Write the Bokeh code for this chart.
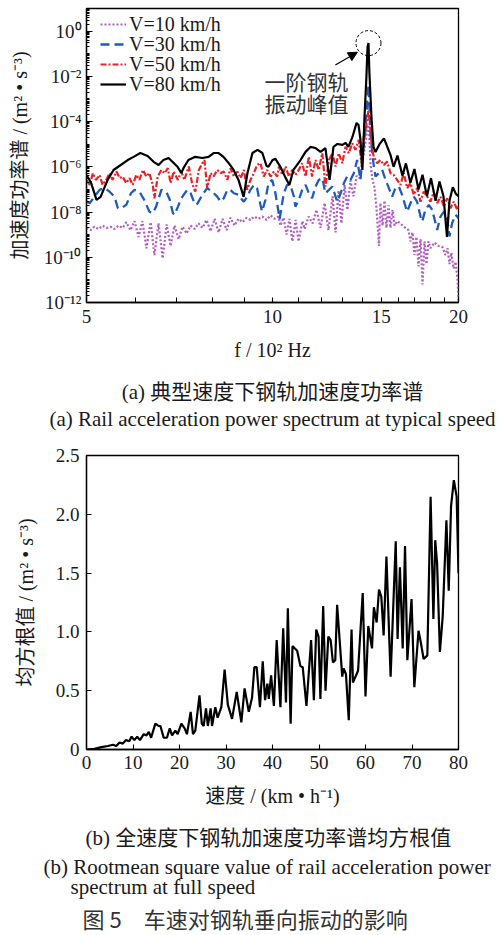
import numpy as np
from bokeh.plotting import figure
from bokeh.models import (FixedTicker, Legend, LegendItem, Label, Arrow, NormalHead,
                          Range1d, CustomJSTickFormatter, Title)
from bokeh.layouts import column
from bokeh.embed import file_html
from bokeh.resources import INLINE

# ---------------- data: (a) power spectra, f in 10^2 Hz, values as log10(PSD) ----------------
f10 = [5.00, 5.08, 5.15, 5.23, 5.31, 5.39, 5.47, 5.55, 5.63, 5.72, 5.80, 5.89, 5.98, 6.07, 6.16, 6.25,
       6.35, 6.44, 6.54, 6.64, 6.74, 6.84, 6.94, 7.05, 7.15, 7.26, 7.37, 7.48, 7.59, 7.70, 7.82, 7.94,
       8.06, 8.18, 8.30, 8.43, 8.55, 8.68, 8.81, 8.94, 9.08, 9.21, 9.35, 9.49, 9.63, 9.78, 9.93, 10.08,
       10.23, 10.30, 10.42, 10.54, 10.65, 10.77, 10.90, 11.02, 11.18, 11.27, 11.44, 11.61, 11.78, 11.96,
       12.14, 12.32, 12.51, 12.65, 12.79, 12.93, 13.08, 13.22, 13.37, 13.52, 13.68, 13.83, 13.93, 14.04,
       14.14, 14.28, 14.34, 14.41, 14.52, 14.62, 14.73, 14.87, 14.95, 15.07, 15.18, 15.29, 15.41, 15.52,
       15.64, 15.76, 15.93, 16.17, 16.41, 16.60, 16.72, 16.85, 16.97, 17.10, 17.23, 17.36, 17.49, 17.62,
       17.75, 17.88, 18.02, 18.29, 18.56, 18.84, 19.05, 19.20, 19.34, 19.48, 19.63, 19.78, 19.93, 20.0]
lg10 = [-8.7, -8.8, -8.65, -8.75, -8.6, -8.7, -8.65, -8.75, -8.6, -8.7, -8.45, -8.8, -8.4, -9.1, -8.4, -9.6,
        -8.45, -9.9, -8.5, -10.05, -8.55, -9.5, -8.6, -9.2, -8.65, -8.95, -8.6, -8.75, -8.5, -8.7, -8.35, -8.85,
        -8.3, -8.9, -8.3, -8.8, -8.25, -8.6, -8.3, -8.45, -8.25, -8.35, -8.2, -8.3, -8.2, -8.35, -8.15, -8.3,
        -8.2, -8.6, -8.25, -9.0, -8.3, -9.3, -8.35, -9.3, -8.4, -8.75, -8.2, -8.5, -7.9, -8.7,
        -7.6, -8.8, -7.3, -8.9, -7.05, -8.5, -6.8, -7.9, -6.6, -7.3, -6.4, -6.5, -6.0, -5.5,
        -4.9, -4.15, -4.6, -5.9, -6.6, -6.9, -7.8, -9.5, -7.6, -8.6, -7.5, -8.7, -7.7, -8.7,
        -7.9, -8.6, -8.4, -8.55, -8.7, -8.8, -9.3, -8.9, -9.9, -9.1, -10.4, -9.2, -11.2, -9.3,
        -10.3, -9.3, -9.6, -9.35, -9.5, -9.55, -9.9, -9.6, -10.3, -9.8, -10.5, -10.2, -11.0, -11.9]

f30 = [5.00, 5.06, 5.15, 5.25, 5.35, 5.45, 5.55, 5.62, 5.69, 5.80, 5.90, 5.98, 6.09, 6.20, 6.32, 6.40,
       6.48, 6.61, 6.73, 6.82, 6.90, 6.94, 7.03, 7.12, 7.20, 7.28, 7.37, 7.46, 7.54, 7.70, 7.84, 7.99,
       8.14, 8.24, 8.34, 8.45, 8.55, 8.66, 8.82, 8.93, 8.99, 9.10, 9.21, 9.33, 9.44, 9.56, 9.62, 9.74,
       9.85, 9.99, 10.11, 10.27, 10.43, 10.56, 10.69, 10.83, 10.89, 11.03, 11.17, 11.31, 11.45, 11.59,
       11.74, 11.88, 12.04, 12.18, 12.34, 12.50, 12.65, 12.73, 12.89, 13.05, 13.21, 13.37, 13.54, 13.71,
       13.88, 14.00, 14.14, 14.23, 14.30, 14.41, 14.52, 14.59, 14.68, 14.86, 15.05, 15.24, 15.43, 15.62,
       15.81, 16.01, 16.21, 16.42, 16.52, 16.72, 16.93, 17.14, 17.36, 17.47, 17.68, 17.91, 18.13, 18.36,
       18.47, 18.70, 18.94, 19.17, 19.34, 19.53, 19.78, 20.0]
lg30 = [-7.54, -7.61, -7.32, -7.02, -6.94, -7.1, -7.32, -7.83, -7.83, -7.68, -7.17, -7.02, -7.1, -7.46, -7.98, -8.05,
        -7.76, -7.02, -7.1, -7.46, -8.05, -8.12, -7.76, -7.39, -7.2, -7.02, -7.17, -7.54, -7.68, -7.24, -6.94, -7.1,
        -7.32, -7.54, -7.39, -7.02, -7.02, -7.17, -7.24, -7.46, -7.54, -7.32, -7.02, -6.8, -6.94, -7.68, -7.98, -7.46,
        -6.72, -6.58, -7.17, -8.3, -7.17, -6.8, -6.8, -7.32, -7.76, -7.46, -7.02, -6.8, -7.17, -7.39,
        -6.87, -6.58, -6.5, -7.17, -7.02, -6.87, -7.32, -7.54, -7.17, -6.72, -6.43, -6.58, -6.28, -5.7,
        -6.58, -5.4, -4.37, -3.19, -2.38, -4.6, -5.5, -5.99, -6.43, -6.28, -6.14, -6.58, -6.94, -7.32,
        -6.94, -6.87, -7.24, -7.76, -7.98, -7.61, -7.32, -7.54, -8.2, -8.42, -7.9, -7.68, -7.9, -8.49,
        -8.79, -8.2, -7.98, -8.27, -9.08, -8.49, -8.12, -8.27]

f50 = [5.00, 5.06, 5.12, 5.18, 5.25, 5.31, 5.38, 5.45, 5.51, 5.59, 5.66, 5.72, 5.80, 5.87, 5.94, 6.02,
       6.09, 6.17, 6.25, 6.32, 6.40, 6.44, 6.52, 6.61, 6.69, 6.77, 6.84, 6.92, 7.03, 7.12, 7.20, 7.32,
       7.41, 7.50, 7.60, 7.70, 7.76, 7.84, 7.94, 8.03, 8.14, 8.24, 8.34, 8.45, 8.55, 8.66, 8.77, 8.88,
       8.99, 9.10, 9.21, 9.33, 9.44, 9.56, 9.68, 9.80, 9.93, 10.05, 10.18, 10.24, 10.37, 10.50, 10.63,
       10.76, 10.89, 11.03, 11.17, 11.31, 11.45, 11.59, 11.74, 11.88, 12.04, 12.18, 12.34, 12.50, 12.65,
       12.80, 12.97, 13.13, 13.29, 13.46, 13.62, 13.79, 13.93, 14.05, 14.18, 14.30, 14.50, 14.59, 14.77,
       14.95, 15.14, 15.33, 15.52, 15.71, 15.91, 16.11, 16.31, 16.52, 16.72, 16.93, 17.14, 17.36, 17.57,
       17.80, 18.02, 18.24, 18.47, 18.70, 18.94, 19.17, 19.41, 19.65, 19.90, 20.0]
lg50 = [-6.58, -6.8, -6.28, -6.58, -6.36, -6.8, -6.58, -6.28, -6.58, -6.21, -6.5, -6.43, -6.72, -6.5, -6.8, -6.36,
        -6.58, -6.14, -6.43, -6.28, -6.8, -7.39, -6.43, -6.14, -6.28, -6.06, -6.72, -6.21, -6.58, -6.21, -6.58, -5.99,
        -6.72, -7.1, -6.14, -5.84, -5.7, -6.94, -6.28, -6.43, -6.14, -6.28, -6.21, -6.58, -6.06, -6.43, -6.21, -6.5,
        -6.14, -7.02, -6.58, -6.28, -5.92, -5.84, -6.43, -6.14, -6.43, -6.21, -6.43, -5.99, -6.36, -5.99, -6.43,
        -6.14, -6.36, -6.14, -5.84, -6.43, -5.55, -6.43, -5.7, -6.14, -5.4, -6.87, -5.7, -5.4, -5.99,
        -5.4, -5.84, -5.11, -5.4, -4.96, -5.25, -4.81, -5.84, -4.67, -4.22, -3.49, -5.25, -5.55, -5.84,
        -5.7, -5.92, -5.77, -6.28, -6.36, -6.58, -6.8, -6.28, -6.94, -6.72, -7.24, -6.94, -7.54, -7.1,
        -7.32, -7.54, -7.1, -7.61, -7.32, -7.76, -7.39, -7.83, -7.54, -7.9, -7.7]

f80 = [5.00, 5.08, 5.19, 5.27, 5.41, 5.53, 5.68, 5.83, 5.96, 6.11, 6.28, 6.42, 6.54, 6.66, 6.79, 6.92,
       7.02, 7.12, 7.18, 7.31, 7.50, 7.70, 7.88, 8.03, 8.18, 8.33, 8.49, 8.65, 8.81, 8.98, 9.11, 9.28,
       9.46, 9.63, 9.78, 9.85, 10.0, 10.11, 10.30, 10.50, 10.65, 10.81, 11.10, 11.31, 11.52, 11.74, 11.96,
       12.18, 12.37, 12.55, 12.74, 12.98, 13.13, 13.27, 13.47, 13.68, 13.78, 13.88, 13.98, 14.09, 14.19,
       14.25, 14.30, 14.35, 14.46, 14.57, 14.68, 14.90, 15.15, 15.52, 15.70, 15.93, 16.23, 16.44, 16.72,
       16.97, 17.23, 17.49, 17.78, 18.05, 18.36, 18.63, 18.91, 19.16, 19.34, 19.58, 19.81, 20.0]
lg80 = [-6.36, -6.67, -7.46, -7.33, -6.58, -6.14, -5.92, -5.70, -5.56, -5.39, -5.52, -5.78, -5.92, -5.70, -5.61, -5.83,
        -6.0, -6.27, -6.05, -5.70, -5.56, -5.61, -5.56, -5.39, -5.39, -5.56, -5.83, -6.14, -6.58, -7.33, -6.27, -5.39,
        -5.25, -5.39, -5.96, -6.0, -5.70, -5.65, -6.0, -6.49, -6.80, -6.14, -5.70, -5.34, -5.12, -5.17, -5.34,
        -5.17, -6.58, -5.12, -4.99, -5.03, -4.94, -5.12, -4.68, -4.06, -4.15, -4.81, -6.14, -3.80, -2.03,
        -0.70, -0.53, -1.85, -3.80, -5.12, -5.35, -5.0, -4.74, -5.47, -6.0, -5.5, -6.4, -5.85, -6.7,
        -6.1, -7.0, -6.35, -7.3, -6.5, -7.5, -6.65, -7.3, -9.1, -7.5, -6.9, -7.2, -7.3]

legend_labels = ["V=10 km/h", "V=30 km/h", "V=50 km/h", "V=80 km/h"]
x_major_a = [5, 10, 15, 20]
x_minor_a = [6, 7, 8, 9, 11, 12, 13, 14, 16, 17, 18, 19]
y_exp_major_a = [-12, -10, -8, -6, -4, -2, 0]

# ---------------- data: (b) RMS vs speed ----------------
speed = [0, 1.7, 3.2, 4.6, 5.7, 6.4, 7.1, 7.8, 8.5, 9.2, 9.7, 10.3, 10.9, 11.5, 12.3, 12.9, 13.4, 13.9,
         14.8, 15.5, 15.9, 16.6, 17.3, 17.9, 18.4, 19.1, 19.6, 20.4, 21.1, 21.6, 22.4, 22.9, 23.4, 24.3,
         24.8, 25.2, 25.7, 26.1, 26.7, 27.0, 27.7, 28.2, 29.0, 29.7, 30.4, 31.3, 32.3, 33.3, 34.0, 34.9,
         35.6, 36.1, 36.6, 37.3, 37.9, 38.4, 38.9, 39.2, 39.7, 40.3, 40.9, 41.7, 42.3, 42.9, 43.3, 43.9,
         44.3, 45.3, 46.0, 46.5, 47.3, 48.3, 48.9, 49.4, 49.9, 50.3, 50.9, 51.4, 52.0, 52.5, 53.0, 53.5,
         53.9, 55.0, 55.3, 55.8, 56.4, 57.0, 57.3, 58.4, 59.4, 60.0, 60.6, 61.4, 61.8, 62.4, 62.9, 63.4,
         63.9, 64.5, 65.4, 66.5, 66.9, 67.4, 68.0, 68.5, 69.0, 69.9, 70.5, 71.4, 71.9, 72.5, 73.3, 74.0,
         74.6, 75.0, 75.4, 76.0, 76.6, 77.4, 77.9, 78.4, 79.0, 79.6, 80.0]
rms = [0.0, 0.005, 0.02, 0.03, 0.04, 0.03, 0.06, 0.05, 0.08, 0.07, 0.11, 0.08, 0.11, 0.08, 0.13, 0.12, 0.15, 0.10,
       0.22, 0.20, 0.20, 0.10, 0.10, 0.18, 0.12, 0.16, 0.13, 0.22, 0.18, 0.13, 0.32, 0.13, 0.16, 0.46,
       0.22, 0.20, 0.35, 0.20, 0.35, 0.20, 0.36, 0.27, 0.36, 0.68, 0.38, 0.26, 0.49, 0.23, 0.52, 0.32,
       0.44, 0.70, 0.70, 0.36, 0.75, 0.42, 0.56, 0.43, 0.63, 0.37, 0.93, 0.36, 1.03, 0.40, 1.20, 0.22,
       0.88, 0.84, 0.71, 0.70, 0.37, 0.93, 0.42, 1.02, 0.96, 0.43, 1.22, 0.50, 0.96, 0.93, 0.74, 0.76,
       1.23, 0.62, 0.69, 0.64, 0.25, 1.02, 0.57, 0.67, 1.33, 0.45, 1.05, 0.86, 1.21, 1.08, 1.36, 1.30,
       0.97, 1.64, 0.62, 1.77, 0.94, 1.55, 0.86, 1.73, 0.76, 1.28, 0.53, 1.01, 0.91, 0.77, 0.80, 2.15,
       1.11, 1.78, 1.58, 0.83, 1.13, 1.95, 1.35, 2.07, 2.29, 2.15, 1.50]
x_major_b = [0, 10, 20, 30, 40, 50, 60, 70, 80]
y_major_b = [0, 0.5, 1.0, 1.5, 2.0, 2.5]

# ---------------- styles ----------------
SERIF = "Liberation Serif, Noto Sans CJK SC"
CJK = "Noto Sans CJK SC"
PURPLE = "#b35cc4"
BLUE = "#1f5cb8"
RED = "#ec2027"
TXT = "#1a1a1a"
GRAYTXT = "#333333"
W = 499


def style_axes(p):
    p.grid.visible = False
    p.outline_line_color = "black"
    p.outline_line_width = 1.3
    p.outline_line_alpha = 1
    for ax in (p.xaxis[0], p.yaxis[0]):
        ax.axis_line_width = 1.3
        ax.major_tick_line_width = 1.1
        ax.minor_tick_line_width = 1
        ax.major_tick_out = 0
        ax.minor_tick_out = 0
        ax.major_label_text_font = SERIF
        ax.major_label_text_font_size = "19px"
        ax.major_label_text_color = TXT
        ax.axis_label_text_font = SERIF
        ax.axis_label_text_font_size = "20px"
        ax.axis_label_text_font_style = "normal"
        ax.axis_label_text_color = TXT


def caption(p, text, size="21px", align="center", offset=0, standoff=0, font=SERIF, color=TXT):
    p.add_layout(Title(text=text, align=align, offset=offset, standoff=standoff,
                       text_font=font, text_font_size=size, text_font_style="normal",
                       text_color=color), "below")


# ---------------- (a) ----------------
p1 = figure(width=W, height=433, x_axis_type="log", y_axis_type="log",
            x_range=Range1d(5, 20), y_range=Range1d(1e-12, 1e1),
            output_backend="svg", toolbar_location=None,
            min_border_left=86, min_border_right=41, min_border_top=8, min_border_bottom=131,
            background_fill_color="white", border_fill_color="white")
style_axes(p1)

r10 = p1.line(f10, [10.0 ** e for e in lg10], line_color=PURPLE, line_width=2.2, line_dash="2 2")
r30 = p1.line(f30, [10.0 ** e for e in lg30], line_color=BLUE, line_width=2.3, line_dash="9 5")
r50 = p1.line(f50, [10.0 ** e for e in lg50], line_color=RED, line_width=2.2, line_dash="6 2 2 2")
r80 = p1.line(f80, [10.0 ** e for e in lg80], line_color="black", line_width=2.2)

xa = p1.xaxis[0]
xa.ticker = FixedTicker(ticks=x_major_a, minor_ticks=x_minor_a)
xa.formatter = CustomJSTickFormatter(code="return String(Math.round(tick));")
xa.major_tick_in = 5
xa.minor_tick_in = 5
xa.major_label_standoff = 7
xa.axis_label = "f / 10² Hz"
xa.axis_label_standoff = 13

ya = p1.yaxis[0]
y_major_vals = [10.0 ** k for k in y_exp_major_a]
y_minor_vals = [m * 10.0 ** k for k in range(-12, 1) for m in range(1, 10)]
ya.ticker = FixedTicker(ticks=y_major_vals, minor_ticks=y_minor_vals)
ya.formatter = CustomJSTickFormatter(code="""
const e = Math.round(Math.log10(tick));
const m = {'0':'\u2070','1':'\u00b9','2':'\u00b2','3':'\u00b3','4':'\u2074','5':'\u2075',
           '6':'\u2076','7':'\u2077','8':'\u2078','9':'\u2079','-':'\u207b'};
return '10' + String(e).split('').map(c => m[c]).join('');
""")
ya.major_tick_in = 6
ya.minor_tick_in = 3
ya.major_label_standoff = 5
ya.axis_label = "加速度功率谱 / (m² • s⁻³)"
ya.axis_label_standoff = 10

# one single-row legend per series, stacked at fixed offsets from the frame bottom
for r, lab, vy in zip([r10, r30, r50, r80], legend_labels, [265, 245, 225, 205]):
    p1.add_layout(Legend(items=[LegendItem(label=lab, renderers=[r])],
                         location=(14, vy), orientation="vertical",
                         label_text_font=SERIF, label_text_font_size="20px", label_text_color=TXT,
                         glyph_width=26, glyph_height=26, label_height=26, spacing=0,
                         padding=0, margin=0, label_standoff=3,
                         border_line_color=None, background_fill_alpha=0))

# peak marker derived from the 80 km/h series
ipk = int(np.argmax(lg80))
p1.scatter([f80[ipk]], [10.0 ** lg80[ipk]], marker="circle", size=25, fill_color=None,
           line_color="black", line_width=1, line_dash="3 2")
p1.add_layout(Arrow(end=NormalHead(size=9, fill_color="black", line_color="black"),
                    x_start=12.64, y_start=10 ** -1.5, x_end=13.72, y_end=10 ** -0.93,
                    line_width=1.2, line_color="black"))
for txt, yy in (("一阶钢轨", 222), ("振动峰值", 200)):
    p1.add_layout(Label(x=178, y=yy, x_units="screen", y_units="screen", text=txt,
                        text_font=CJK, text_font_size="21px", text_color=GRAYTXT,
                        text_baseline="middle", text_align="left"))

caption(p1, "(a) 典型速度下钢轨加速度功率谱", standoff=28)
caption(p1, "(a) Rail acceleration power spectrum at typical speed", standoff=-25)

# ---------------- (b) ----------------
p2 = figure(width=W, height=502, x_range=Range1d(0, 80), y_range=Range1d(0, 2.5),
            output_backend="svg", toolbar_location=None,
            min_border_left=86, min_border_right=41, min_border_top=22, min_border_bottom=186,
            background_fill_color="white", border_fill_color="white")
style_axes(p2)
p2.line(speed, rms, line_color="black", line_width=2.2)

xb = p2.xaxis[0]
xb.ticker = FixedTicker(ticks=x_major_b, minor_ticks=[])
xb.formatter = CustomJSTickFormatter(code="return tick.toFixed(0);")
xb.major_tick_in = 5
xb.major_label_standoff = 6
xb.axis_label = "速度 / (km • h⁻¹)"
xb.axis_label_standoff = 13

yb = p2.yaxis[0]
yb.ticker = FixedTicker(ticks=y_major_b, minor_ticks=[])
yb.formatter = CustomJSTickFormatter(code="return tick === 0 ? '0' : tick.toFixed(1);")
yb.major_tick_in = 5
yb.major_label_standoff = 7
yb.axis_label = "均方根值 / (m² • s⁻³)"
yb.axis_label_standoff = 16

caption(p2, "(b) 全速度下钢轨加速度功率谱均方根值", align="left", offset=-1, standoff=28)
caption(p2, "(b) Rootmean square value of rail acceleration power", align="left", offset=-43, standoff=-22)
caption(p2, "spectrum at full speed", align="left", offset=-16, standoff=10)
caption(p2, "图 5　车速对钢轨垂向振动的影响", size="22px", align="left", offset=-4, standoff=-8,
        font=CJK, color=GRAYTXT)

layout = column(p1, p2)
open("out.html", "w", encoding="utf-8").write(file_html(layout, INLINE))
